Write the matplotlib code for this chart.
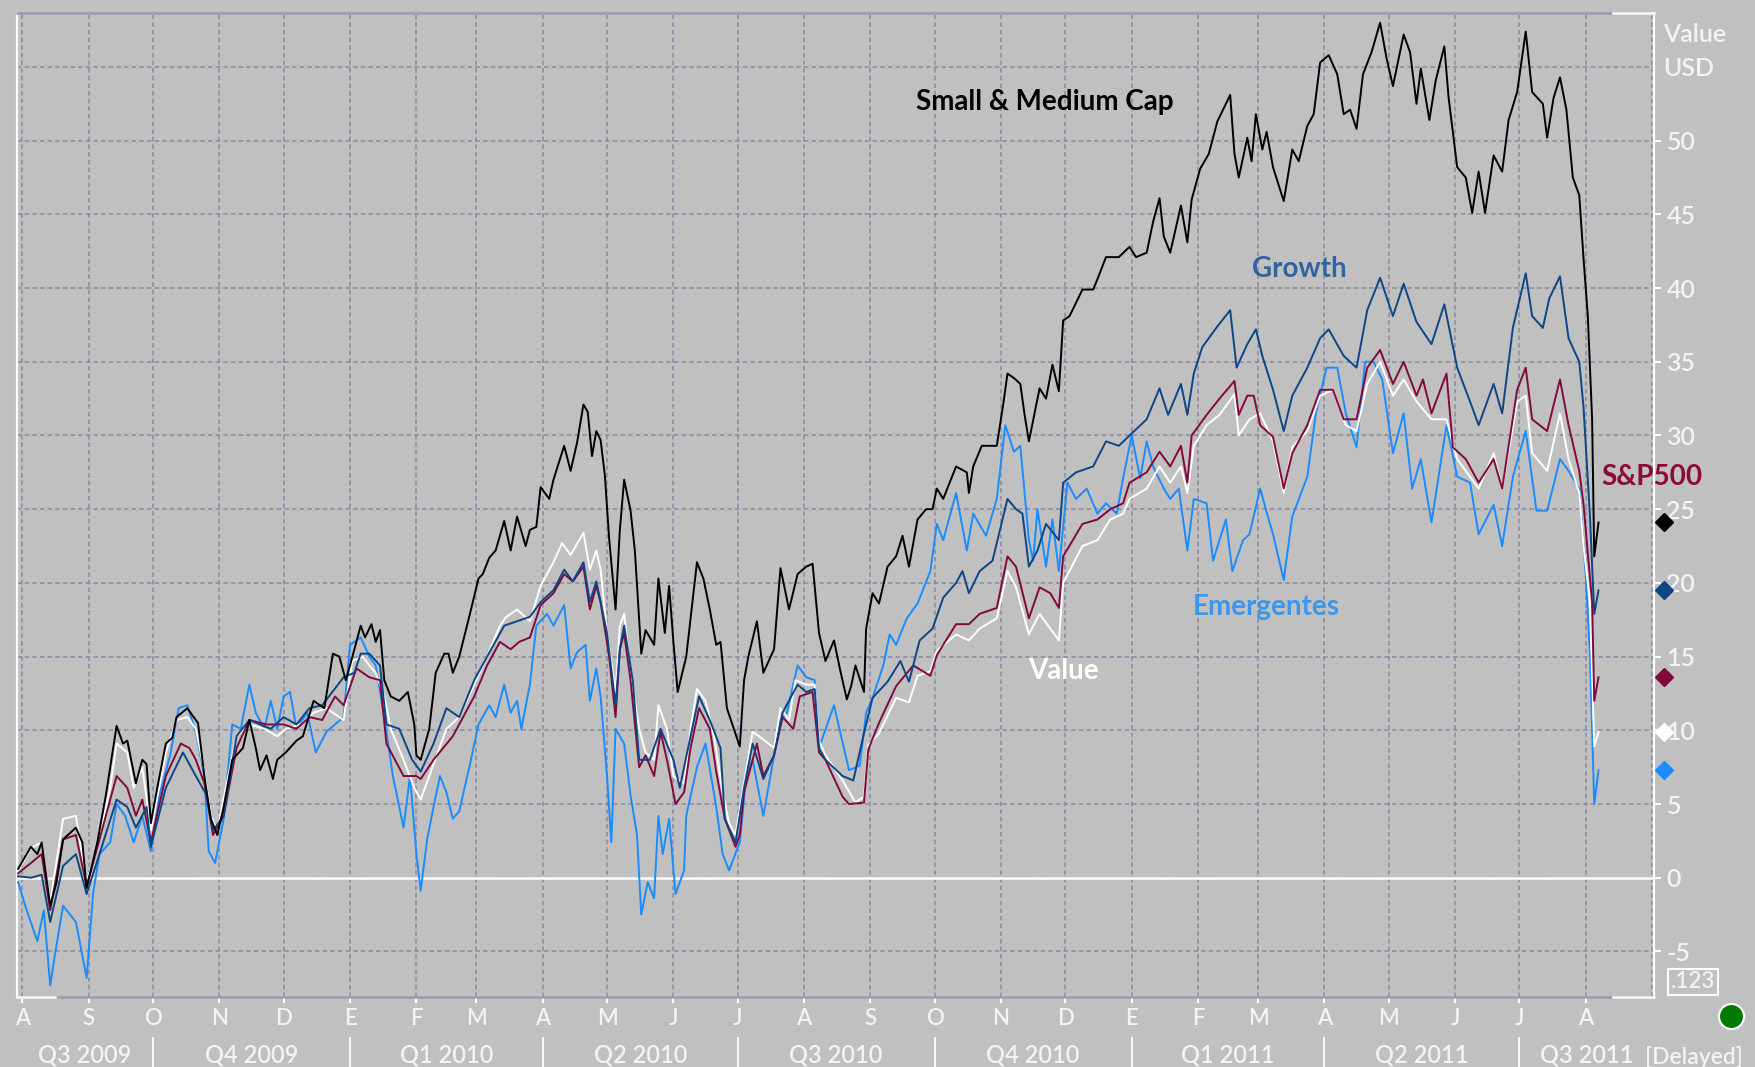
import matplotlib
matplotlib.use("Agg")
import matplotlib.pyplot as plt
import matplotlib.dates as mdates
import matplotlib.transforms as mtransforms
from matplotlib.lines import Line2D
import pandas as pd

plt.rcParams["font.family"] = ["Lato", "DejaVu Sans"]
plt.rcParams["axes.unicode_minus"] = False

# ---- data: day offsets from 1 Aug 2009 and cumulative % change ----
BASE = pd.Timestamp("2009-08-01")

small_days = [-2, 4, 7, 9, 13, 16, 19, 25, 28, 30, 35, 39, 44, 47, 49, 53, 56, 58, 60, 63,
              67, 70, 72, 77, 82, 85, 88, 91, 94, 98, 103, 106, 109, 111, 114, 117, 119, 123, 128, 131,
              136, 141, 145, 148, 151, 153, 158, 160, 163, 165, 167, 169, 172, 176, 180, 183, 184,
              186, 190, 193, 197, 199, 201, 204, 209, 213, 215, 218, 221, 225, 228, 231, 235, 237, 240, 242, 246,
              248, 253, 256, 259, 262, 264, 266, 268, 270, 272, 274, 277, 279, 281, 284, 286, 289, 291, 295, 297,
              300, 302, 304, 306, 310, 315, 318, 321, 324, 326, 329, 335, 337, 339, 343, 346, 351, 354, 358, 362,
              366, 369, 372, 375,
              379, 382, 385, 387, 389, 393, 394, 397, 400, 404, 408, 411, 414, 418, 422, 425, 427, 430, 436, 441,
              442, 444, 448, 455, 458, 460, 463, 466, 468, 470, 475, 478, 481, 484, 486, 489, 495, 500, 502, 506,
              512, 517, 520, 525, 528, 531, 533, 536, 541, 544, 546, 550, 554, 558, 564, 566,
              568, 572, 574, 576, 579, 581, 584, 589, 593, 596, 600, 603, 606, 610, 614, 617, 620, 623, 626, 630,
              634, 637, 640, 645, 648, 651, 653, 657, 660, 664, 666, 670, 674, 677, 680, 683, 687, 691, 694, 698,
              702, 705, 710, 712, 715, 718, 721, 724, 727, 729, 731, 733, 734, 736]
small_vals = [0.6, 2.1, 1.6, 2.4, -1.9, -0.3, 2.6, 3.4, 2.4, -0.7, 2.4, 5.6, 10.3, 9.1, 9.3, 6.4, 8.0, 7.7, 3.7, 6.1,
              9.1, 9.5, 10.9, 11.5, 10.5, 6.9, 4.0, 2.9, 4.8, 8.0, 8.8, 10.7, 8.8, 7.3, 8.3, 6.7, 8.0, 8.5, 9.3, 9.6,
              12.0, 11.5, 15.2, 15.0, 13.4, 14.4, 17.1, 16.3, 17.2, 16.0, 16.8, 13.4, 12.3, 12.0, 12.6, 10.4, 8.3,
              8.0, 10.1, 13.9, 15.2, 15.2, 13.9, 15.0, 17.9, 20.3, 20.6, 21.7, 22.2, 24.2, 22.2, 24.5, 22.5, 23.6, 23.8, 26.5, 25.7,
              27.0, 29.3, 27.6, 29.5, 32.1, 31.6, 28.6, 30.3, 29.7, 27.3, 23.0, 18.2, 23.6, 27.0, 24.9, 22.2, 15.2, 16.8, 15.8, 20.3,
              16.6, 19.8, 16.0, 12.6, 15.0, 21.4, 20.3, 18.2, 15.8, 16.0, 11.5, 8.9, 13.4, 15.0, 17.4, 13.9, 15.5, 21.0, 18.2, 20.6,
              21.1, 21.3, 16.6, 14.7,
              16.1, 14.0, 12.1, 13.0, 14.4, 12.6, 16.9, 19.3, 18.6, 21.1, 21.8, 23.2, 21.1, 24.3, 25.0, 25.0, 26.4, 25.7, 27.9, 27.5,
              26.1, 27.9, 29.3, 29.3, 32.1, 34.2, 33.9, 33.5, 31.4, 29.6, 33.2, 32.5, 34.8, 33.0, 37.8, 38.1, 39.9, 39.9, 40.6, 42.1,
              42.1, 42.8, 42.1, 42.4, 44.5, 46.1, 43.5, 42.4, 45.6, 43.1, 46.0, 48.1, 49.1, 51.3, 53.1, 49.1,
              47.5, 50.2, 48.6, 51.8, 49.4, 50.6, 48.2, 45.9, 49.4, 48.6, 51.0, 51.8, 55.3, 55.8, 54.5, 51.8, 52.1, 50.8, 54.5, 56.0,
              58.0, 55.6, 53.7, 57.2, 56.0, 52.5, 54.9, 51.4, 54.1, 56.4, 52.9, 48.2, 47.5, 45.1, 47.9, 45.1, 49.0, 47.9, 51.4, 53.3,
              57.4, 53.3, 52.5, 50.2, 52.9, 54.3, 52.1, 47.5, 46.3, 42.0, 38.1, 31.1, 21.8, 24.1]

growth_days = [-2, 4, 9, 13, 19, 25, 30, 36, 44, 49, 53, 58, 60, 67, 75, 81, 86, 89, 94, 100,
               106, 116, 122, 128, 134, 140, 150, 155, 158, 162, 167, 170, 176, 182,
               186, 192, 198, 204, 211, 217, 225, 231, 237, 242, 248, 253, 257, 262, 265, 268, 273, 277, 279, 281,
               285, 288, 293, 298, 304, 307, 312, 316, 321, 326, 328, 333, 337, 341, 346, 351, 355, 362, 366, 370,
               372, 375,
               383, 388, 393, 397, 404, 410, 414, 419, 425, 430, 436, 439, 442, 447, 453, 460, 464, 467, 470, 474,
               478, 484, 486, 492, 500, 506, 512, 517, 525, 531, 535, 541, 544, 547, 551, 558, 564, 567,
               572, 576, 579, 584, 589, 593, 600, 606, 610, 617, 623, 628, 634, 640, 645, 651, 658, 664, 670, 676,
               680, 687, 691, 696, 702, 705, 710, 713, 718, 722, 727, 729, 732, 734, 736]
growth_vals = [0.1, 0.0, 0.2, -3.0, 0.8, 1.6, -1.1, 1.6, 5.3, 4.8, 3.4, 4.8, 2.1, 6.1, 8.5, 6.9, 5.6, 3.2, 4.2, 9.6,
               10.7, 10.1, 10.9, 10.4, 11.5, 11.7, 13.6, 13.9, 15.2, 15.2, 14.4, 10.4, 10.1, 8.0,
               7.2, 9.1, 11.5, 10.9, 13.4, 15.0, 17.1, 17.4, 17.7, 18.7, 19.5, 20.9, 20.1, 21.4, 18.7, 20.1, 16.6, 11.7, 15.5, 17.1,
               13.4, 8.0, 8.0, 10.1, 8.0, 6.1, 9.6, 12.3, 10.7, 8.8, 4.0, 2.4, 6.1, 9.1, 6.7, 8.3, 11.2, 13.1, 12.6, 12.8,
               8.8, 8.0,
               6.9, 6.6, 9.8, 12.2, 13.3, 14.7, 13.3, 16.1, 16.9, 19.0, 20.0, 20.8, 19.3, 20.8, 21.5, 25.7, 25.0, 24.7, 21.1, 22.2,
               24.0, 22.9, 26.8, 27.5, 27.9, 29.6, 29.3, 30.0, 31.1, 33.2, 31.4, 33.5, 31.4, 34.2, 36.0, 37.4, 38.5, 34.6,
               36.2, 37.2, 35.4, 33.1, 30.3, 32.7, 34.6, 36.6, 37.2, 35.4, 34.6, 38.5, 40.7, 38.1, 40.3, 37.7, 36.2, 38.9, 34.6, 32.3,
               30.7, 33.5, 31.5, 37.3, 41.0, 38.1, 37.3, 39.3, 40.8, 36.6, 35.0, 31.9, 24.5, 17.9, 19.5]

sp500_days = [-2, 4, 9, 13, 19, 25, 30, 36, 44, 49, 53, 56, 60, 67, 74, 78, 81, 85, 89, 94,
              100, 106, 114, 122, 128, 134, 140, 146, 150, 156, 159, 162, 167, 170, 178, 184,
              186, 192, 201, 211, 217, 223, 228, 232, 237, 242, 248, 253, 257, 262, 265, 268, 270, 274, 277, 279,
              281, 284, 288, 291, 295, 298, 301, 305, 309, 312, 316, 321, 324, 328, 333, 335, 337, 343, 346, 351,
              355, 360, 363, 369, 372, 375,
              383, 386, 393, 395, 400, 408, 416, 424, 427, 436, 442, 447, 455, 460, 464, 470, 475, 480, 484, 486,
              495, 502, 508, 514, 517, 525, 531, 536, 541, 544, 546, 553, 559, 566, 568,
              572, 575, 578, 584, 589, 593, 600, 606, 612, 617, 623, 628, 634, 640, 645, 651, 654, 658, 665, 668,
              674, 680, 687, 691, 698, 702, 705, 712, 718, 722, 727, 729, 733, 734, 736]
sp500_vals = [0.3, 1.0, 1.6, -2.2, 2.6, 2.9, -0.6, 2.6, 6.9, 6.1, 4.2, 5.3, 2.4, 6.9, 9.1, 8.8, 8.0, 6.4, 2.9, 4.2,
              8.8, 10.7, 10.4, 10.4, 10.1, 10.9, 10.7, 12.3, 11.7, 14.2, 13.9, 13.6, 13.4, 9.1, 6.9, 6.9,
              6.7, 8.0, 9.6, 12.3, 14.4, 16.0, 15.5, 16.0, 16.3, 18.5, 19.3, 20.6, 20.1, 21.1, 18.2, 19.8, 18.7, 15.0, 10.9, 15.5,
              16.6, 13.4, 7.5, 8.3, 6.9, 9.9, 8.0, 5.0, 5.8, 8.8, 11.5, 10.1, 7.2, 4.0, 2.1, 2.9, 5.8, 9.1, 6.9, 8.3,
              10.9, 10.1, 12.3, 12.6, 8.5, 8.0,
              5.5, 5.0, 5.1, 8.7, 10.5, 13.0, 14.4, 13.7, 15.1, 17.2, 17.2, 17.9, 18.3, 21.8, 21.1, 17.6, 19.7, 19.3, 18.3, 21.8,
              24.0, 24.3, 25.0, 25.4, 26.8, 27.5, 28.9, 27.9, 29.3, 26.8, 30.0, 31.4, 32.5, 33.7, 31.4,
              32.7, 32.7, 30.7, 29.9, 26.4, 28.8, 30.7, 33.1, 33.1, 31.1, 31.1, 34.6, 35.8, 33.5, 35.0, 32.7, 33.8, 31.5, 34.2, 29.2,
              28.4, 26.8, 28.4, 26.4, 33.1, 34.6, 31.1, 30.3, 33.8, 30.7, 27.6, 25.3, 18.7, 12.0, 13.6]

value_days = [-2, 4, 9, 13, 19, 25, 30, 35, 41, 44, 49, 52, 56, 60, 67, 72, 77, 81, 85, 88,
              91, 95, 100, 106, 113, 119, 123, 130, 136, 142, 150, 154, 159, 162, 165, 169, 172, 178, 183, 186,
              192, 198, 204, 211, 217, 223, 226, 231, 237, 242, 248, 252, 256, 262, 265, 268, 270, 273, 277, 279,
              281, 284, 288, 291, 295, 297, 301, 304, 309, 312, 315, 319, 323, 327, 330, 333, 337, 341, 344, 351,
              354, 358, 361, 366, 370, 372, 375,
              383, 389, 393, 395, 400, 408, 414, 418, 424, 427, 436, 442, 447, 455, 460, 464, 470, 475, 480, 484,
              486, 495, 502, 508, 514, 517, 525, 531, 536, 541, 544, 547, 553, 559, 566, 568,
              573, 578, 584, 589, 593, 600, 606, 612, 618, 623, 628, 634, 640, 645, 651, 658, 665, 670, 676, 680,
              687, 691, 698, 702, 705, 712, 718, 722, 727, 729, 732, 734, 736]
value_vals = [0.5, 2.0, 2.4, -1.7, 4.0, 4.2, -0.3, 2.1, 6.1, 9.1, 8.5, 6.1, 7.5, 3.2, 8.5, 10.7, 10.9, 10.1, 7.2, 4.2,
              3.2, 6.1, 9.6, 10.4, 10.1, 9.6, 10.1, 10.4, 11.2, 11.5, 10.7, 14.7, 15.0, 14.4, 13.9, 12.3, 10.1, 8.0, 6.1, 5.3,
              7.7, 10.1, 10.9, 13.1, 15.0, 17.1, 17.7, 18.2, 17.4, 19.8, 21.4, 22.7, 21.9, 23.4, 20.9, 22.2, 20.9, 16.6, 12.6, 17.1,
              17.9, 13.9, 10.1, 8.5, 8.0, 11.7, 10.1, 6.9, 6.4, 10.1, 12.8, 12.0, 9.6, 5.8, 3.7, 2.9, 6.4, 9.9, 9.6, 8.8,
              11.5, 10.7, 13.4, 13.1, 13.1, 9.3, 8.3,
              6.6, 5.1, 5.5, 9.0, 9.8, 12.2, 11.9, 13.7, 14.0, 15.4, 16.5, 16.1, 16.9, 17.6, 20.8, 19.7, 16.5, 17.9, 16.9, 16.1,
              20.0, 22.5, 22.9, 24.3, 24.7, 25.7, 26.4, 27.9, 26.8, 27.9, 26.1, 29.3, 30.7, 31.4, 32.8, 30.0,
              31.1, 31.5, 29.6, 26.1, 29.2, 30.3, 32.7, 33.1, 30.7, 30.3, 33.5, 35.0, 32.7, 33.8, 32.3, 31.1, 31.1, 28.4, 27.2, 26.4,
              28.8, 26.4, 32.3, 32.7, 28.8, 27.6, 31.5, 28.4, 26.1, 22.5, 18.7, 8.9, 9.9]

emerg_days = [-2, 2, 7, 10, 13, 15, 19, 25, 30, 33, 36, 41, 44, 48, 52, 56, 60, 64, 69, 73,
              77, 81, 85, 87, 90, 94, 98, 102, 106, 109, 113, 116, 119, 122, 125, 128, 133, 137, 142, 150,
              153, 158, 162, 165, 169, 173, 178, 181, 184, 186,
              189, 192, 195, 198, 201, 204, 209, 213, 218, 221, 225, 228, 231, 233, 237, 240, 245, 248, 253, 256,
              259, 263, 265, 268, 270, 273, 275, 277, 281, 284, 287, 289, 292, 295, 297, 299, 302, 305, 309, 310,
              315, 319, 324, 327, 330, 335, 338, 341, 346, 351, 354, 357, 362, 366, 370, 372, 379,
              382, 386, 391, 394, 397, 402, 405, 408, 413, 418, 424, 427, 430, 436, 441, 444, 450, 455, 459, 463,
              466, 470, 472, 474, 478, 481, 484, 488, 492, 497, 502, 506, 511, 514, 518, 522, 525, 528, 533, 536,
              540, 544, 547, 553, 556, 562, 565, 570,
              573, 578, 581, 584, 589, 593, 600, 604, 609, 614, 618, 623, 627, 631, 635, 640, 645, 649, 653, 658,
              665, 670, 676, 680, 687, 691, 696, 702, 707, 712, 718, 722, 727, 730, 732, 734, 736]
emerg_vals = [-0.3, -2.2, -4.3, -2.2, -7.3, -5.4, -1.9, -3.0, -6.8, -1.1, 1.6, 2.4, 5.0, 4.2, 2.4, 4.2, 1.8, 5.6, 8.3, 11.5,
              11.7, 9.9, 6.9, 1.8, 1.0, 4.0, 10.4, 10.1, 13.1, 11.2, 10.1, 12.0, 10.1, 12.3, 12.6, 10.1, 11.2, 8.5, 9.9, 10.9,
              15.8, 16.3, 15.0, 14.4, 10.9, 6.9, 3.4, 6.9, 1.6, -0.9,
              2.6, 4.8, 6.9, 5.8, 4.0, 4.5, 7.7, 10.4, 11.7, 10.9, 13.1, 11.2, 12.0, 10.1, 13.1, 17.1, 17.9, 17.1, 18.5, 14.2,
              15.3, 15.8, 12.0, 14.2, 12.3, 6.9, 2.4, 10.1, 9.1, 5.6, 2.9, -2.5, -0.3, -1.4, 4.2, 1.6, 4.0, -1.1, 0.5, 4.2,
              7.5, 9.1, 4.8, 1.6, 0.5, 2.4, 6.9, 8.0, 4.2, 8.3, 10.7, 11.2, 14.4, 13.6, 13.4, 8.8, 11.7,
              9.8, 7.3, 7.6, 11.2, 12.2, 14.4, 16.5, 15.8, 17.6, 18.6, 20.8, 24.0, 22.9, 26.1, 22.2, 24.7, 23.2, 25.7, 30.7, 28.9,
              29.3, 22.9, 21.5, 25.0, 21.1, 24.3, 20.8, 26.8, 25.7, 26.4, 24.7, 25.4, 24.7, 27.1, 30.0, 27.1, 29.6, 27.9, 26.4, 25.7,
              26.4, 22.2, 25.7, 25.4, 21.5, 24.3, 20.8, 22.9,
              23.3, 26.4, 24.8, 23.3, 20.2, 24.5, 27.2, 31.5, 34.6, 34.6, 31.5, 29.2, 35.0, 35.0, 33.8, 28.8, 31.5, 26.4, 28.4, 24.1,
              30.7, 27.2, 26.8, 23.3, 25.3, 22.5, 27.2, 30.3, 24.9, 24.9, 28.4, 27.6, 26.4, 20.6, 15.1, 5.0, 7.3]

month_letters = ["A", "S", "O", "N", "D", "E", "F", "M", "A", "M", "J", "J",
                 "A", "S", "O", "N", "D", "E", "F", "M", "A", "M", "J", "J", "A"]
quarter_labels = ["Q3 2009", "Q4 2009", "Q1 2010", "Q2 2010", "Q3 2010",
                  "Q4 2010", "Q1 2011", "Q2 2011", "Q3 2011"]
y_ticks = [-5, 0, 5, 10, 15, 20, 25, 30, 35, 40, 45, 50]

# ---- styling ----
W, H = 1756, 1067
BG = "#c0c0c0"
GRID = "#8b89a3"
TXT = "#f3f3f3"
AXW = "semibold"   # weight of the axis texts

series = [
    ("Emergentes", emerg_days, emerg_vals, "#1a8cff"),
    ("Value", value_days, value_vals, "#ffffff"),
    ("S&P500", sp500_days, sp500_vals, "#82093c"),
    ("Growth", growth_days, growth_vals, "#0d4585"),
    ("Small & Medium Cap", small_days, small_vals, "#000000"),
]


def fx(x):
    return x / W


def fy(y):
    return 1 - y / H


fig = plt.figure(figsize=(W / 100, H / 100), dpi=100, facecolor=BG)
ax = fig.add_axes([fx(16.8), fy(997), (1654 - 16.8) / W, (997 - 13) / H])
ax.set_facecolor(BG)

for name, days, vals, col in series:
    dates = BASE + pd.to_timedelta(days, unit="D")
    ax.plot(dates, vals, color=col, lw=1.4, zorder=3)

ax.set_xlim(mdates.date2num(BASE - pd.Timedelta(days=2.6)),
            mdates.date2num(BASE + pd.Timedelta(days=761.9)))
ax.set_ylim(-8.09, 58.66)

# grid
months = pd.date_range("2009-08-01", "2011-08-01", freq="MS")
ax.set_xticks(months)
ax.set_xticklabels(month_letters)
ax.set_yticks(y_ticks)
ax.grid(True, color=GRID, lw=1.1, linestyle=(0, (3, 2)), zorder=1)
ax.set_axisbelow(True)
ax.axhline(55, color=GRID, lw=1.1, linestyle=(0, (3, 2)), zorder=1)
ax.axvline(pd.Timestamp("2011-09-01"), color=GRID, lw=1.1, linestyle=(0, (3, 2)), zorder=1)
ax.axhline(0, color="white", lw=1.8, zorder=2)

ax.yaxis.tick_right()
ax.tick_params(axis="y", length=5, width=1.5, color="white", labelcolor=TXT,
               labelsize=18, pad=4, direction="out")
ax.tick_params(axis="x", length=4, width=1.5, color="white", labelcolor=TXT,
               labelsize=16, pad=4, direction="out")
for lab in ax.get_xticklabels() + ax.get_yticklabels():
    lab.set_fontweight(AXW)

for side in ["left", "right"]:
    ax.spines[side].set_color("white")
    ax.spines[side].set_linewidth(1.6)
for side in ["top", "bottom"]:
    ax.spines[side].set_color("#9c99b1")
    ax.spines[side].set_linewidth(1.8)
for xs, yv in [((0, 0.0233), 0), ((0.975, 1), 0), ((0.975, 1), 1)]:
    ax.add_line(Line2D(xs, [yv, yv], color="white", lw=1.8,
                       transform=ax.transAxes, clip_on=False, zorder=5))

# end-of-series diamonds on the value axis
for name, days, vals, col in series:
    ax.plot([1.0061], [vals[-1]], marker="D", ms=9, color=col, mec=col,
            transform=ax.get_yaxis_transform(), clip_on=False, zorder=6)

# quarter row
trans_q = mtransforms.blended_transform_factory(ax.transData, fig.transFigure)
q_edges = pd.date_range("2009-07-01", periods=len(quarter_labels) + 1, freq="QS")
xl, xr = ax.get_xlim()
for i, lab in enumerate(quarter_labels):
    a = max(mdates.date2num(q_edges[i]), xl)
    b = min(mdates.date2num(q_edges[i + 1]), xr)
    fig.text((a + b) / 2, fy(1055), lab, transform=trans_q, ha="center", va="center",
             color=TXT, fontsize=17, fontweight=AXW)
    if i > 0:
        xq = mdates.date2num(q_edges[i])
        fig.add_artist(Line2D([xq, xq], [fy(1038), 0], color="white", lw=1.3,
                              transform=trans_q))
fig.text(fx(1645), fy(1057), "[Delayed]", ha="left", va="center", color=TXT,
         fontsize=16.5, fontweight=AXW)

# axis captions and widgets
fig.text(fx(1663), fy(34), "Value", ha="left", va="center", color=TXT, fontsize=18, fontweight=AXW)
fig.text(fx(1663), fy(69), "USD", ha="left", va="center", color=TXT, fontsize=18, fontweight=AXW)
fig.text(fx(1693), fy(982), ".123", ha="center", va="center", color=TXT, fontsize=16,
         fontweight=AXW, bbox=dict(boxstyle="square,pad=0.12", fc="none", ec="white", lw=1.5))
fig.add_artist(Line2D([fx(1731)], [fy(1016)], marker="o", ms=18, mfc="#007a00",
                      mec="white", mew=1.5, transform=fig.transFigure))

# series labels
label_style = [
    ("Small & Medium Cap", 1045, 102, "#000000"),
    ("Growth", 1299, 269, "#2f64a0"),
    ("S&P500", 1652, 477, "#8c0a3a"),
    ("Emergentes", 1266, 607, "#3b96ec"),
    ("Value", 1063, 671, "#ffffff"),
]
for txt, x, y, col in label_style:
    fig.text(fx(x), fy(y), txt, ha="center", va="center", color=col,
             fontsize=20, fontweight="bold")

fig.savefig("out.png", dpi=100, facecolor=BG)
